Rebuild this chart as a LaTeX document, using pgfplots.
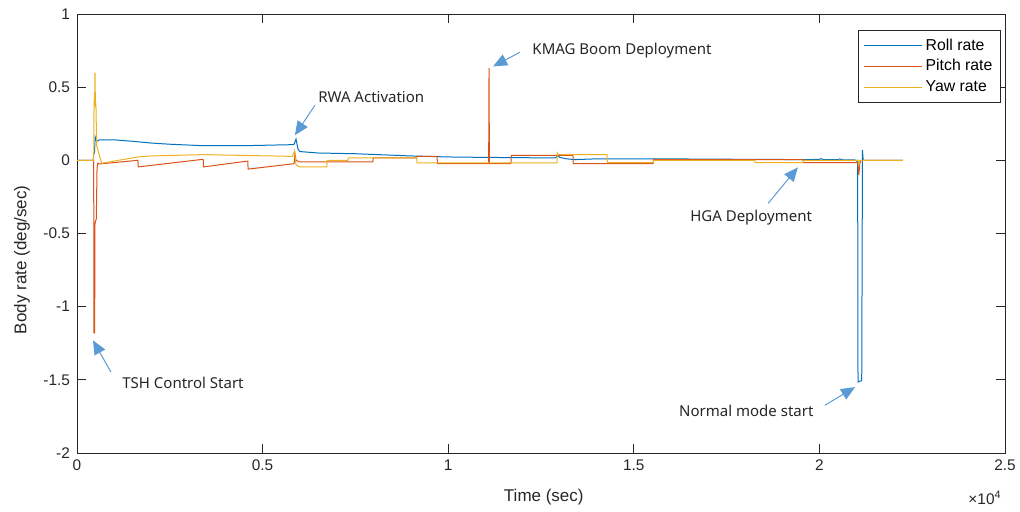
\documentclass[border=0pt]{standalone}
\usepackage{pgfplots}
\pgfplotsset{compat=1.18}
\usepackage{fontspec}
\setmainfont{Liberation Sans}
\newfontfamily\notefont{Noto Sans}
\usetikzlibrary{arrows.meta}

\definecolor{mroll}{rgb}{0,0.447,0.741}
\definecolor{mpitch}{rgb}{0.85,0.325,0.098}
\definecolor{myaw}{rgb}{0.929,0.694,0.125}
\definecolor{arrowblue}{RGB}{91,155,213}
\definecolor{axgray}{gray}{0.15}

\begin{document}
\begin{tikzpicture}
  \path[use as bounding box] (0,0) rectangle (510pt,256pt);
  \begin{axis}[
    name=ax,
    at={(38.5pt,29.5pt)}, anchor=south west,
    scale only axis,
    width=464pt, height=219.5pt,
    xmin=0, xmax=25000,
    ymin=-2, ymax=1,
    xtick={0,5000,10000,15000,20000,25000},
    xticklabels={0,0.5,1,1.5,2,2.5},
    scaled x ticks=false,
    ytick={-2,-1.5,-1,-0.5,0,0.5,1},
    yticklabels={-2,-1.5,-1,-0.5,0,0.5,1},
    tick align=inside,
    tick pos=both,
    major tick length=4.6pt,
    axis line style={axgray, line width=0.4pt},
    every tick/.style={axgray, line width=0.4pt},
    ticklabel style={font=\fontsize{7.7}{9}\selectfont, text=axgray},
    /pgf/number format/assume math mode=true,
    xlabel={Time (sec)},
    ylabel={Body rate (deg/sec)},
    label style={font=\fontsize{8.5}{10}\selectfont, text=axgray},
    xlabel style={at={(axis description cs:0.503,-0.1)}, anchor=center},
    ylabel style={at={(axis description cs:-0.0593,0.44)}, anchor=center},
    legend style={at={(rel axis cs:0.9957,0.9636)}, anchor=north east,
      draw=axgray, line width=0.4pt, fill=white,
      font=\fontsize{7.9}{9}\selectfont,
      row sep=0pt, inner sep=2.5pt,
      nodes={inner sep=1.6pt}},
    legend cell align=left,
    legend image code/.code={\draw[#1] (-2pt,0pt) -- (27pt,0pt);},
    every axis plot/.append style={line width=0.5pt},
    clip mode=individual,
  ]

  % roll rate
  \addplot[color=mroll] coordinates {
    (0,0)(440,0)(450,0.05)(470,0.05)(490,0.16)(530,0.13)(600,0.14)(1000,0.14)
    (1500,0.13)(2000,0.118)(2500,0.11)(3400,0.10)(4500,0.10)(5800,0.107)
    (5850,0.11)(5900,0.145)(5950,0.08)(6000,0.06)(6500,0.05)(7500,0.045)
    (8000,0.04)(9000,0.03)(10000,0.023)(11000,0.02)(12000,0.018)(12900,0.016)
    (12950,0.038)(13000,0.02)(13200,0.01)(13400,0.005)(14000,0.01)(15000,0.01)
    (16000,0.01)(17000,0.008)(18000,0.007)(19500,0.005)(20000,0.006)
    (20050,0.012)(20100,0.004)(20500,0.004)(20550,0.01)(20600,0.004)
    (20950,0.003)(21000,-0.005)(21030,0)(21040,-1.515)(21140,-1.505)
    (21160,0.07)(21180,0)(22250,0)
  };

  % pitch rate
  \addplot[color=mpitch] coordinates {
    (0,0)(450,0)(455,-1.18)(475,-1.18)(485,-0.43)(520,-0.40)(540,-0.05)
    (560,-0.02)(600,-0.025)(1640,0.0)(1650,-0.045)(3400,0.007)(3410,-0.045)
    (4600,-0.005)(4610,-0.06)(5850,-0.023)(5870,0.05)(5900,0.0)(6000,-0.011)
    (7970,-0.011)(7980,0.016)(9150,0.016)(9160,0.027)(9700,0.027)(9710,-0.023)
    (11090,-0.023)(11100,0.63)(11110,-0.023)(11690,-0.023)(11700,0.034)
    (13360,0.034)(13370,-0.023)(15520,-0.023)(15530,0.005)(19560,0.005)
    (19570,-0.016)(21040,-0.016)(21060,-0.10)(21090,-0.02)(21120,0)(22250,0)
  };

  % yaw rate
  \addplot[color=myaw] coordinates {
    (0,0)(450,0)(460,0.42)(475,0.40)(485,0.60)(495,0.40)(510,0.38)(530,0.1)
    (620,0.02)(665,-0.02)(1640,0.023)(2000,0.03)(3400,0.039)(5800,0.027)
    (5860,0.06)(5900,-0.03)(6000,-0.045)(6730,-0.045)(6740,0)(7300,0)
    (7310,0.016)(9150,0.016)(9160,-0.018)(12930,-0.018)(12940,0.05)
    (12960,0.039)(14280,0.039)(14290,-0.016)(15520,-0.016)(15530,0)
    (18260,0)(18270,-0.016)(19560,-0.016)(19570,0)(21040,0)(21060,-0.03)
    (21090,0)(22250,0)
  };

  \legend{Roll rate, Pitch rate, Yaw rate}

  % annotations
  \begin{scope}[font=\notefont\fontsize{7.5}{9}\selectfont, text=black!85]
    \draw[arrowblue, line width=0.5pt, -{Triangle[length=7pt,width=6pt]}]
      (axis cs:6410,0.376) -- (axis cs:5870,0.171);
    \node[anchor=west, inner sep=0pt] at (axis cs:6490,0.43) {RWA Activation};
    \draw[arrowblue, line width=0.5pt, -{Triangle[length=7pt,width=6pt]}]
      (axis cs:11930,0.738) -- (axis cs:11210,0.642);
    \node[anchor=west, inner sep=0pt] at (axis cs:12260,0.75) {KMAG Boom Deployment};
    \draw[arrowblue, line width=0.5pt, -{Triangle[length=7pt,width=6pt]}]
      (axis cs:916,-1.448) -- (axis cs:431,-1.23);
    \node[anchor=west, inner sep=0pt] at (axis cs:1212,-1.523) {TSH Control Start};
    \draw[arrowblue, line width=0.5pt, -{Triangle[length=7pt,width=6pt]}]
      (axis cs:18620,-0.294) -- (axis cs:19420,-0.048);
    \node[anchor=center, inner sep=0pt] at (axis cs:18160,-0.39) {HGA Deployment};
    \draw[arrowblue, line width=0.5pt, -{Triangle[length=7pt,width=6pt]}]
      (axis cs:20150,-1.673) -- (axis cs:20960,-1.55);
    \node[anchor=east, inner sep=0pt] at (axis cs:19850,-1.714) {Normal mode start};
  \end{scope}
  \end{axis}
  \node[font=\fontsize{7.7}{9}\selectfont, text=axgray, anchor=center]
    at ([xshift=-10pt,yshift=-22.5pt]ax.south east) {×10\textsuperscript{4}};
\end{tikzpicture}
\end{document}
